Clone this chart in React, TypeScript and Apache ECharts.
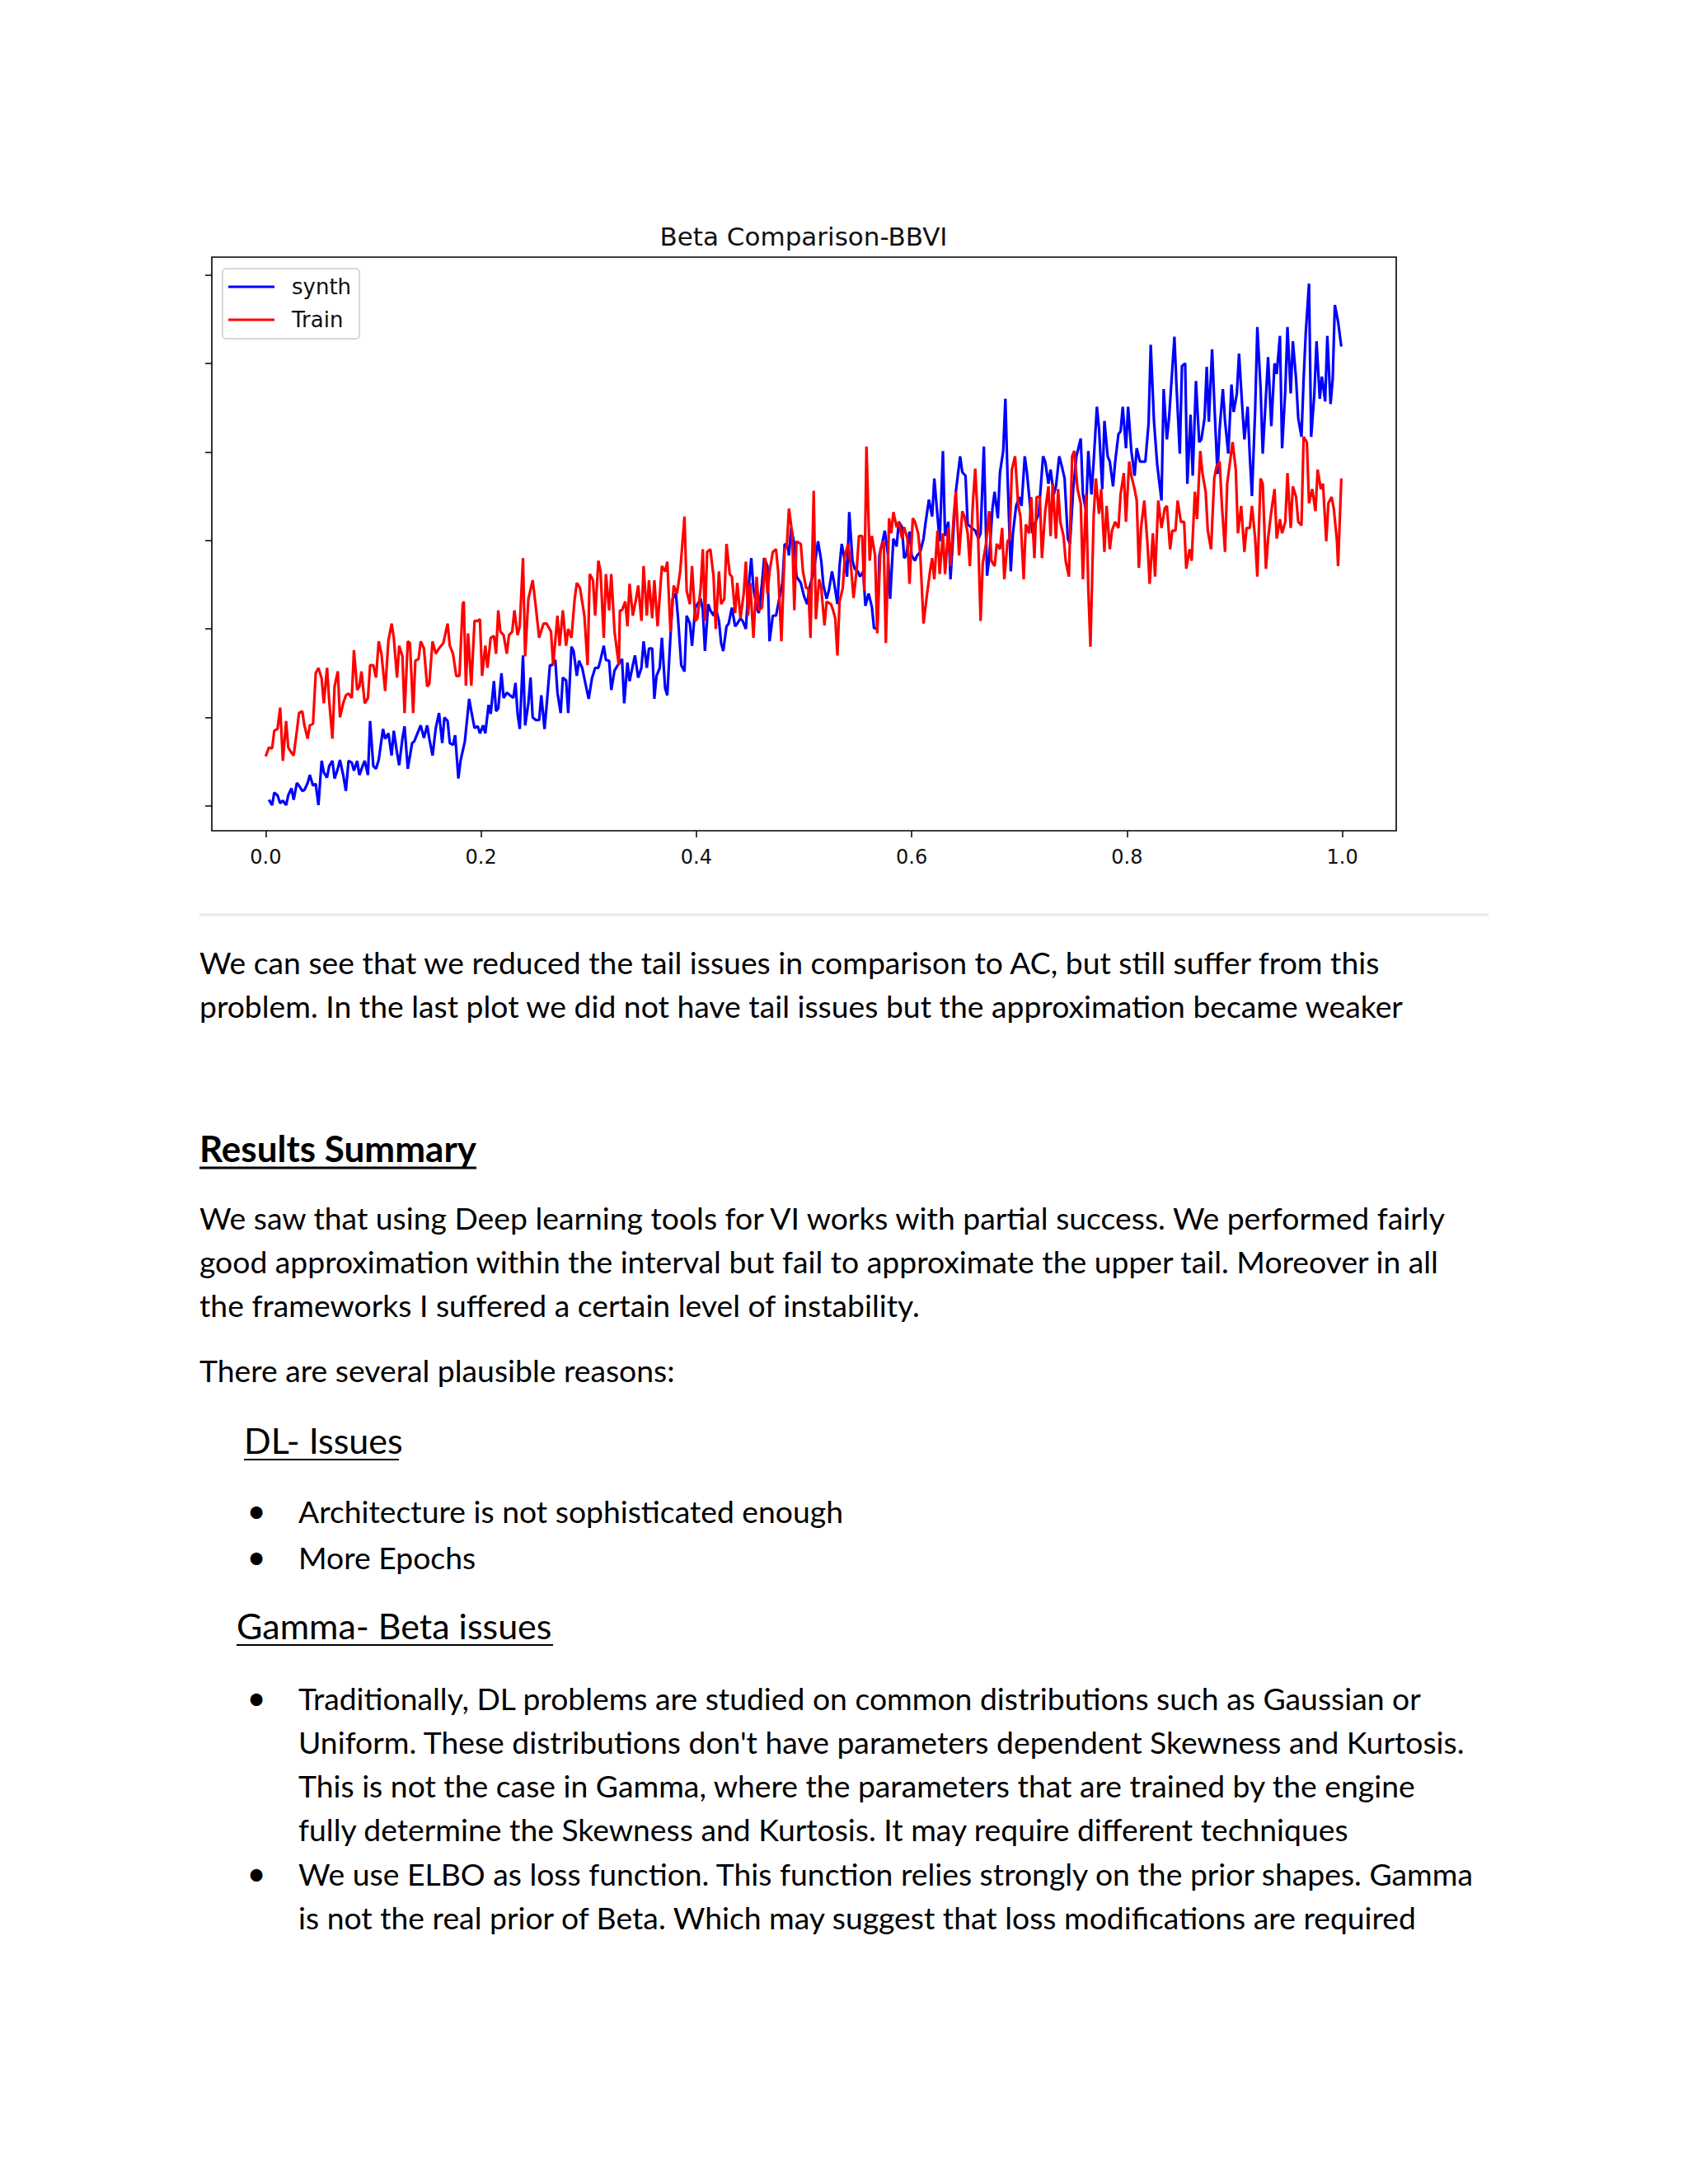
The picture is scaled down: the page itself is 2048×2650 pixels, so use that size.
import React, { useEffect, useRef } from "react";
import * as echarts from "echarts";

const chartTitle = "Beta Comparison-BBVI";
const seriesNames = ["synth", "Train"];
const xTickValues = [0, 0.2, 0.4, 0.6, 0.8, 1.0];
const yTickValues = [0, 1, 2, 3, 4, 5, 6];

// [x, value] (y unit = one unlabeled tick step)
const synthPoints: [number, number][] = [
  [0.003,0.07],[0.006,0.01],[0.008,0.15],[0.011,0.12],[0.0135,0.03],[0.016,0.06],[0.019,0.01],[0.021,0.12],[0.024,0.20],[0.026,0.07],[0.029,0.26],[0.031,0.23],[0.034,0.17],[0.036,0.18],[0.039,0.26],[0.041,0.35],[0.044,0.23],[0.0465,0.25],[0.049,0.01],[0.052,0.51],[0.054,0.38],[0.057,0.32],[0.059,0.45],[0.062,0.51],[0.064,0.31],[0.067,0.42],[0.069,0.52],[0.072,0.35],[0.0745,0.17],[0.077,0.51],[0.080,0.49],[0.082,0.40],[0.085,0.51],[0.087,0.35],[0.090,0.45],[0.092,0.51],[0.095,0.35],[0.097,0.96],[0.100,0.45],[0.1025,0.42],[0.105,0.52],[0.109,0.87],[0.111,0.76],[0.114,0.82],[0.117,0.57],[0.119,0.85],[0.122,0.60],[0.124,0.46],[0.127,0.76],[0.129,0.90],[0.132,0.42],[0.136,0.71],[0.138,0.73],[0.142,0.85],[0.144,0.91],[0.147,0.77],[0.150,0.91],[0.152,0.76],[0.155,0.57],[0.158,0.88],[0.161,1.05],
  [0.164,0.71],[0.166,1.00],[0.169,0.96],[0.171,0.71],[0.174,0.69],[0.176,0.80],[0.179,0.31],[0.181,0.51],[0.185,0.73],[0.189,1.21],[0.191,1.07],[0.194,0.88],[0.197,0.90],[0.199,0.82],[0.202,0.91],[0.204,0.82],[0.207,1.14],[0.209,1.04],[0.212,1.41],[0.214,1.07],[0.216,1.10],[0.219,1.50],[0.221,1.22],[0.224,1.28],[0.227,1.25],[0.230,1.22],[0.232,1.39],[0.234,1.04],[0.236,0.87],[0.239,1.70],[0.241,0.91],[0.244,1.16],[0.246,1.45],[0.248,1.00],[0.251,0.97],[0.254,0.97],[0.256,1.25],[0.259,0.87],[0.261,1.14],[0.264,1.59],[0.266,1.59],[0.269,1.65],[0.271,1.28],[0.274,1.05],[0.276,1.45],[0.279,1.42],[0.281,1.05],[0.284,1.80],[0.286,1.75],[0.289,1.47],[0.291,1.64],[0.294,1.56],[0.296,1.44],[0.300,1.21],[0.303,1.44],[0.306,1.56],[0.309,1.56],[0.311,1.65],[0.314,1.81],[0.316,1.65],[0.319,1.64],[0.321,1.31],[0.324,1.53],[0.328,1.61],
  [0.331,1.66],[0.333,1.16],[0.336,1.62],[0.338,1.41],[0.341,1.59],[0.343,1.70],[0.346,1.45],[0.349,1.56],[0.351,1.86],[0.354,1.56],[0.356,1.78],[0.359,1.78],[0.361,1.21],[0.363,1.47],[0.366,1.56],[0.368,1.90],[0.371,1.33],[0.373,1.25],[0.376,1.93],[0.378,2.34],[0.381,2.40],[0.383,2.12],[0.386,1.59],[0.389,1.52],[0.391,2.15],[0.394,2.06],[0.396,1.81],[0.399,2.24],[0.401,2.28],[0.404,2.34],[0.406,2.21],[0.408,1.75],[0.411,2.28],[0.413,2.21],[0.416,2.15],[0.418,2.24],[0.421,2.09],[0.423,1.84],[0.425,1.75],[0.428,2.03],[0.430,2.06],[0.433,2.24],[0.436,2.03],[0.438,2.06],[0.441,2.12],[0.443,2.09],[0.446,2.00],[0.448,2.40],[0.451,2.80],[0.453,2.46],[0.456,2.24],[0.458,2.18],[0.461,2.52],[0.463,2.80],[0.466,2.71],[0.468,1.86],[0.471,2.15],[0.474,2.15],[0.477,2.34],[0.480,2.52],[0.482,2.96],[0.485,2.93],[0.486,2.83],[0.488,3.14],[0.491,2.96],[0.493,2.59],[0.497,2.52],
  [0.500,2.37],[0.503,2.28],[0.505,2.46],[0.509,2.65],[0.513,2.99],[0.516,2.77],[0.518,2.49],[0.521,2.34],[0.523,2.43],[0.526,2.65],[0.528,2.52],[0.531,2.28],[0.533,2.71],[0.535,2.96],[0.537,2.83],[0.540,2.59],[0.542,3.32],[0.545,2.77],[0.547,2.68],[0.550,2.65],[0.552,2.59],[0.555,2.65],[0.557,2.26],[0.560,2.40],[0.563,2.25],[0.565,2.01],[0.568,2.00],[0.570,2.83],[0.573,2.99],[0.575,3.11],[0.578,2.83],[0.580,2.34],[0.583,3.02],[0.586,2.93],[0.588,3.21],[0.591,3.15],[0.593,2.80],[0.595,2.83],[0.598,3.10],[0.600,2.83],[0.603,2.77],[0.605,2.83],[0.608,2.87],[0.611,3.02],[0.613,3.21],[0.616,3.46],[0.619,3.27],[0.621,3.70],[0.624,3.27],[0.626,2.99],[0.629,4.01],[0.631,3.05],[0.634,3.21],[0.636,2.56],[0.639,3.15],[0.641,3.55],[0.645,3.95],[0.647,3.77],[0.650,3.73],[0.652,3.18],
  [0.659,3.11],[0.662,3.02],[0.664,3.08],[0.667,4.06],[0.670,2.60],[0.672,2.80],[0.675,3.36],[0.677,3.55],[0.680,3.25],[0.682,3.77],[0.685,4.01],[0.687,4.60],[0.689,3.73],[0.692,2.65],[0.694,3.08],[0.697,3.39],[0.700,3.49],[0.702,3.39],[0.705,3.95],[0.707,3.77],[0.710,3.39],[0.712,3.08],[0.714,3.18],[0.718,3.30],[0.722,3.95],[0.724,3.89],[0.727,3.64],[0.729,3.80],[0.732,3.52],[0.734,3.61],[0.737,3.95],[0.739,3.86],[0.742,3.70],[0.745,3.02],[0.747,2.96],[0.750,3.58],[0.753,3.95],[0.757,4.15],[0.759,3.52],[0.762,3.33],[0.764,4.01],[0.767,3.52],[0.769,3.89],[0.772,4.51],[0.774,4.26],[0.777,3.58],[0.779,4.35],[0.782,3.95],[0.784,3.89],[0.787,3.61],[0.789,3.89],[0.792,4.20],[0.794,4.23],[0.796,4.51],[0.799,4.04],[0.801,4.51],[0.804,4.01],[0.807,3.73],[0.809,4.04],[0.812,3.89],[0.814,3.89],[0.817,3.89],[0.820,4.32],[0.822,5.21],[0.825,4.35],[0.828,3.86],[0.832,3.45],
  [0.834,4.71],[0.837,4.14],[0.839,4.38],[0.844,5.30],[0.846,4.73],[0.849,3.98],[0.851,4.97],[0.854,5.00],[0.856,3.64],[0.859,4.42],[0.861,3.73],[0.864,4.80],[0.867,4.11],[0.869,4.14],[0.872,4.38],[0.874,4.96],[0.876,4.34],[0.879,5.16],[0.881,4.57],[0.884,3.75],[0.886,4.26],[0.889,4.71],[0.891,4.35],[0.894,3.98],[0.897,4.76],[0.899,4.45],[0.902,4.66],[0.904,5.11],[0.907,4.51],[0.909,4.14],[0.912,4.51],[0.914,3.95],[0.916,3.50],[0.919,4.48],[0.921,5.41],[0.924,4.73],[0.926,3.98],[0.929,4.63],[0.931,5.07],[0.934,4.29],[0.937,5.00],[0.939,4.88],[0.942,5.31],[0.944,4.04],[0.947,4.70],[0.949,5.41],[0.952,4.66],[0.954,5.25],[0.957,4.82],[0.959,4.38],[0.962,4.17],[0.964,4.82],[0.966,5.35],[0.969,5.90],[0.971,4.17],[0.974,4.66],[0.976,5.25],[0.979,4.60],[0.981,4.85],[0.984,4.57],[0.986,5.31],[0.989,4.54],[0.991,4.82],[0.993,5.66],[0.996,5.47],[0.999,5.19]
];

const trainPoints: [number, number][] = [
  [0.000,0.56],[0.003,0.66],[0.006,0.65],[0.008,0.85],[0.011,0.87],[0.0135,1.11],[0.016,0.51],[0.019,0.96],[0.021,0.66],[0.024,0.60],[0.026,0.57],[0.029,0.85],[0.031,1.05],[0.034,1.07],[0.036,0.91],[0.039,0.76],[0.041,0.91],[0.044,0.93],[0.0465,1.50],[0.049,1.56],[0.052,1.44],[0.054,1.16],[0.057,1.56],[0.059,1.19],[0.062,0.76],[0.064,1.35],[0.067,1.52],[0.069,1.00],[0.072,1.16],[0.0745,1.25],[0.077,1.27],[0.080,1.22],[0.082,1.76],[0.085,1.31],[0.087,1.35],[0.089,1.52],[0.092,1.16],[0.095,1.22],[0.097,1.59],[0.100,1.59],[0.1025,1.45],[0.105,1.86],[0.1075,1.72],[0.111,1.30],[0.114,1.87],[0.117,2.06],[0.119,1.90],[0.122,1.45],[0.124,1.81],[0.127,1.69],[0.129,1.05],[0.132,1.86],[0.134,1.84],[0.137,1.05],[0.139,1.64],[0.142,1.66],[0.144,1.86],[0.147,1.78],[0.150,1.35],[0.152,1.38],[0.155,1.86],[0.158,1.72],[0.161,1.78],
  [0.165,1.84],[0.169,2.06],[0.171,1.81],[0.174,1.72],[0.177,1.47],[0.180,1.47],[0.183,2.28],[0.184,2.31],[0.186,1.36],[0.188,1.95],[0.191,1.36],[0.194,2.09],[0.197,2.09],[0.199,2.11],[0.201,1.47],[0.204,1.81],[0.206,1.56],[0.209,1.90],[0.212,1.92],[0.214,1.72],[0.216,2.21],[0.218,1.97],[0.221,1.93],[0.224,1.72],[0.226,1.93],[0.229,1.97],[0.231,2.21],[0.234,1.93],[0.236,2.03],[0.239,2.80],[0.241,1.69],[0.244,2.34],[0.248,2.55],[0.251,2.24],[0.254,1.90],[0.258,2.06],[0.261,2.06],[0.265,1.97],[0.267,1.59],[0.271,2.15],[0.273,1.81],[0.276,2.21],[0.279,1.81],[0.281,2.00],[0.284,1.90],[0.287,2.34],[0.289,2.52],[0.292,2.46],[0.296,2.15],[0.299,1.59],[0.301,2.62],[0.304,2.55],[0.306,2.15],[0.309,2.77],[0.311,2.65],[0.314,1.90],[0.316,2.62],[0.319,2.21],[0.321,2.62],[0.324,1.97],[0.328,1.59],
  [0.329,2.21],[0.331,2.21],[0.334,2.31],[0.336,2.03],[0.338,2.51],[0.341,2.15],[0.344,2.34],[0.346,2.49],[0.349,2.09],[0.351,2.71],[0.354,2.15],[0.356,2.55],[0.359,2.12],[0.361,2.55],[0.364,2.03],[0.368,2.71],[0.371,2.65],[0.373,2.76],[0.376,1.97],[0.379,2.49],[0.382,2.40],[0.385,2.65],[0.389,3.27],[0.391,2.43],[0.394,2.28],[0.396,2.71],[0.399,2.09],[0.401,2.12],[0.404,2.46],[0.406,2.90],[0.408,2.09],[0.410,2.87],[0.413,2.90],[0.416,2.59],[0.418,2.00],[0.421,2.65],[0.423,2.28],[0.426,2.34],[0.428,2.96],[0.431,2.62],[0.433,2.59],[0.436,2.18],[0.438,2.52],[0.441,2.12],[0.444,2.40],[0.446,2.76],[0.448,2.15],[0.450,2.52],[0.453,1.90],[0.456,2.59],[0.458,2.21],[0.461,2.24],[0.464,2.80],[0.466,2.40],[0.468,2.65],[0.471,2.87],[0.474,2.90],[0.476,2.65],[0.479,1.86],[0.482,2.90],[0.484,2.93],[0.486,3.36],[0.489,3.08],[0.491,2.21],[0.493,2.99],[0.497,2.96],
  [0.499,2.65],[0.502,2.46],[0.504,2.46],[0.506,1.90],[0.509,3.56],[0.511,2.11],[0.514,2.56],[0.516,2.46],[0.519,2.04],[0.521,2.31],[0.525,2.28],[0.527,2.21],[0.529,2.12],[0.531,1.70],[0.533,2.31],[0.536,2.46],[0.538,2.83],[0.541,2.96],[0.544,2.65],[0.546,2.35],[0.549,2.68],[0.551,3.05],[0.554,3.05],[0.556,2.43],[0.558,4.06],[0.561,2.77],[0.563,3.05],[0.566,2.83],[0.568,1.95],[0.571,2.90],[0.574,2.99],[0.576,1.84],[0.579,3.25],[0.581,3.08],[0.583,3.32],[0.586,3.15],[0.588,3.21],[0.591,3.02],[0.593,3.15],[0.596,3.02],[0.598,2.51],[0.601,3.25],[0.603,3.21],[0.606,3.08],[0.608,2.83],[0.611,2.06],[0.614,2.37],[0.617,2.65],[0.619,2.80],[0.621,2.56],[0.624,3.11],[0.626,2.62],[0.629,3.08],[0.631,2.62],[0.634,3.15],[0.636,2.71],[0.639,3.27],[0.641,3.55],[0.644,2.83],[0.647,3.33],[0.649,3.27],[0.652,3.08],[0.654,2.71],[0.657,3.46],[0.659,3.81],[0.661,3.33],[0.664,2.09],
  [0.666,2.74],[0.669,2.96],[0.672,3.33],[0.674,2.77],[0.677,2.71],[0.679,2.96],[0.682,2.90],[0.684,3.14],[0.686,2.56],[0.689,2.99],[0.691,3.02],[0.693,3.80],[0.696,3.95],[0.699,3.39],[0.701,3.27],[0.704,2.56],[0.706,3.18],[0.709,3.08],[0.711,3.49],[0.714,2.80],[0.716,3.49],[0.719,3.49],[0.721,2.80],[0.724,3.33],[0.727,3.61],[0.729,3.05],[0.731,3.64],[0.734,3.02],[0.736,3.58],[0.738,3.21],[0.741,3.05],[0.743,2.77],[0.746,2.59],[0.749,3.95],[0.751,4.01],[0.754,3.58],[0.757,3.42],[0.759,2.56],[0.762,3.52],[0.764,2.46],[0.766,1.80],[0.769,3.27],[0.771,3.70],[0.774,3.30],[0.776,3.58],[0.779,2.87],[0.781,3.39],[0.784,2.90],[0.786,3.11],[0.789,3.21],[0.792,3.14],[0.794,3.52],[0.797,3.76],[0.799,3.21],[0.802,3.89],[0.804,3.73],[0.807,3.58],[0.809,3.45],[0.811,2.69],[0.813,3.14],[0.816,3.45],[0.819,2.96],[0.821,2.51],[0.824,3.08],[0.826,2.59],[0.829,3.45],[0.832,3.14],
  [0.835,3.36],[0.837,3.39],[0.840,2.90],[0.842,3.11],[0.845,3.11],[0.847,3.45],[0.850,3.21],[0.853,3.21],[0.855,2.68],[0.858,2.90],[0.860,2.77],[0.863,3.55],[0.865,3.24],[0.868,4.01],[0.870,3.76],[0.873,3.55],[0.875,3.11],[0.878,2.90],[0.881,3.70],[0.883,3.83],[0.886,3.89],[0.888,3.42],[0.891,2.87],[0.893,3.64],[0.896,3.92],[0.898,4.11],[0.901,3.80],[0.903,3.08],[0.906,3.39],[0.909,2.87],[0.911,3.14],[0.914,3.14],[0.916,3.39],[0.919,3.02],[0.921,2.59],[0.924,3.70],[0.926,3.64],[0.929,2.68],[0.931,3.02],[0.934,3.33],[0.937,3.58],[0.939,3.02],[0.942,3.24],[0.944,3.08],[0.947,3.21],[0.949,3.76],[0.952,3.14],[0.954,3.61],[0.957,3.49],[0.959,3.21],[0.962,3.17],[0.964,4.17],[0.967,4.11],[0.969,3.42],[0.972,3.58],[0.975,3.33],[0.977,3.80],[0.980,3.58],[0.982,3.64],[0.985,2.99],[0.987,3.42],[0.990,3.49],[0.992,3.36],[0.995,2.99],[0.996,2.71],[0.999,3.70]
];

const paragraph1 = [
  "We can see that we reduced the tail issues in comparison to AC, but still suffer from this",
  "problem. In the last plot we did not have tail issues but the approximation became weaker",
];
const heading1 = "Results Summary";
const paragraph2 = [
  "We saw that using Deep learning tools for VI works with partial success. We performed fairly",
  "good approximation within the interval but fail to approximate the upper tail. Moreover in all",
  "the frameworks I suffered a certain level of instability.",
];
const paragraph3 = "There are several plausible reasons:";
const subheading1 = "DL- Issues";
const bullets1 = ["Architecture is not sophisticated enough", "More Epochs"];
const subheading2 = "Gamma- Beta issues";
const bullets2 = [
  [
    "Traditionally, DL problems are studied on common distributions such as Gaussian or",
    "Uniform. These distributions don't have parameters dependent Skewness and Kurtosis.",
    "This is not the case in Gamma, where the parameters that are trained by the engine",
    "fully determine the Skewness and Kurtosis. It may require different techniques",
  ],
  [
    "We use ELBO as loss function. This function relies strongly on the prior shapes. Gamma",
    "is not the real prior of Beta. Which may suggest that loss modifications are required",
  ],
];

const BODY_FONT = 'Lato, "Open Sans", sans-serif';
const CHART_FONT = '"DejaVu Sans", sans-serif';
const BODY_SIZE = 37.3;
const SUB_SIZE = 43;
const HEAD_SIZE = 44;

function textEl(text: string, x: number, baseline: number, size: number, weight = "normal", align = "left") {
  return {
    type: "text",
    x,
    y: baseline - 0.387 * size,
    silent: true,
    style: {
      text,
      fontFamily: BODY_FONT,
      fontSize: size,
      fontWeight: weight,
      fill: "#000",
      textAlign: align,
      textVerticalAlign: "middle",
      align,
      verticalAlign: "middle",
    },
  };
}

function lineEl(x1: number, y: number, x2: number, width: number, color: string) {
  return {
    type: "line",
    silent: true,
    shape: { x1, y1: y, x2, y2: y },
    style: { stroke: color, lineWidth: width },
  };
}

export default function App() {
  const ref = useRef<HTMLDivElement>(null);
  useEffect(() => {
    if (!ref.current) return;
    const chart = echarts.init(ref.current, null, { renderer: "svg" });

    const graphics: any[] = [];
    graphics.push(lineEl(242, 1110, 1806, 3, "#e8e8e8"));
    paragraph1.forEach((t, i) => graphics.push(textEl(t, 242, 1182 + i * 52.5, BODY_SIZE)));
    graphics.push(textEl(heading1, 242, 1410, HEAD_SIZE, "bold"));
    graphics.push(lineEl(242, 1417, 578, 3, "#000"));
    paragraph2.forEach((t, i) => graphics.push(textEl(t, 242, 1492 + i * 53, BODY_SIZE)));
    graphics.push(textEl(paragraph3, 242, 1677, BODY_SIZE));
    graphics.push(textEl(subheading1, 296, 1764, SUB_SIZE));
    graphics.push(lineEl(296, 1771, 484, 2, "#000"));
    bullets1.forEach((t, i) => {
      const b = 1848 + i * 56;
      graphics.push(textEl("\u2022", 311, b, 40, "normal", "center"));
      graphics.push(textEl(t, 362, b, BODY_SIZE));
    });
    graphics.push(textEl(subheading2, 287, 1989, SUB_SIZE));
    graphics.push(lineEl(287, 1996, 671, 2, "#000"));
    let base = 2075;
    bullets2.forEach((lines) => {
      graphics.push(textEl("\u2022", 311, base, 40, "normal", "center"));
      lines.forEach((t) => {
        graphics.push(textEl(t, 362, base, BODY_SIZE));
        base += 53;
      });
      base += 1;
    });

    chart.setOption({
      animation: false,
      backgroundColor: "#ffffff",
      title: {
        text: chartTitle,
        left: 975,
        top: 269,
        padding: 0,
        textAlign: "center",
        textStyle: { fontFamily: CHART_FONT, fontSize: 31, fontWeight: "normal", color: "#111", lineHeight: 36 },
      },
      legend: {
        orient: "vertical",
        left: 270,
        top: 326,
        data: seriesNames,
        icon: "rect",
        itemWidth: 56,
        itemHeight: 3,
        itemGap: 12,
        padding: [8, 10, 9, 7],
        backgroundColor: "rgba(255,255,255,0.85)",
        borderColor: "#cccccc",
        borderWidth: 1.5,
        borderRadius: 4,
        textStyle: { fontFamily: CHART_FONT, fontSize: 26, color: "#111", lineHeight: 28, padding: [0, 0, 0, 16] },
      },
      grid: {
        show: true,
        left: 257,
        top: 312,
        width: 1437,
        height: 696,
        borderColor: "#000",
        borderWidth: 1.6,
        backgroundColor: "#fff",
        containLabel: false,
      },
      xAxis: {
        type: "value",
        min: -0.05,
        max: 1.05,
        position: "bottom",
        splitLine: { show: false },
        axisLine: { show: false, onZero: false },
        axisTick: { show: true, inside: false, customValues: xTickValues, length: 8, lineStyle: { color: "#000", width: 1.5 } },
        axisLabel: {
          show: true,
          customValues: xTickValues,
          formatter: (v: number) => v.toFixed(1),
          fontFamily: CHART_FONT,
          fontSize: 24,
          lineHeight: 24,
          color: "#111",
          margin: 20,
        },
      },
      yAxis: {
        type: "value",
        min: -0.28,
        max: 6.2,
        position: "left",
        splitLine: { show: false },
        axisLine: { show: false, onZero: false },
        axisTick: { show: true, inside: false, customValues: yTickValues, length: 8, lineStyle: { color: "#000", width: 1.5 } },
        axisLabel: { show: false },
      },
      series: [
        {
          name: seriesNames[0],
          type: "line",
          data: synthPoints,
          symbol: "none",
          color: "#0000ff",
          lineStyle: { color: "#0000ff", width: 3.2 },
          z: 2,
        },
        {
          name: seriesNames[1],
          type: "line",
          data: trainPoints,
          symbol: "none",
          color: "#ff0000",
          lineStyle: { color: "#ff0000", width: 3.2 },
          z: 3,
        },
      ],
      graphic: { elements: graphics },
    });
    return () => chart.dispose();
  }, []);
  return (
    <div
      ref={ref}
      style={{ position: "absolute", left: 0, top: 0, width: 2048, height: 2650, background: "#fff" }}
    />
  );
}
